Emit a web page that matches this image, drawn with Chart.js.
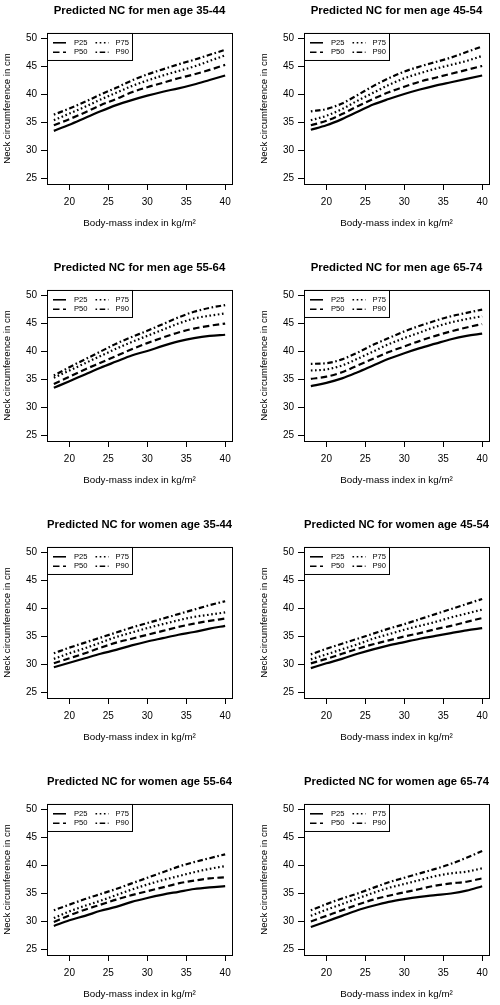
<!DOCTYPE html>
<html>
<head>
<meta charset="utf-8">
<script src="https://cdn.jsdelivr.net/npm/chart.js@4.4.1/dist/chart.umd.min.js"></script>
<style>
  html, body { margin: 0; padding: 0; background: #fff; width: 500px; height: 1005px; overflow: hidden; }
  body { position: relative; }
  canvas { position: absolute; }
</style>
</head>
<body>
<canvas id="c0" width="257" height="257" style="left:0px;top:0px"></canvas>
<canvas id="c1" width="257" height="257" style="left:257px;top:0px"></canvas>
<canvas id="c2" width="257" height="257" style="left:0px;top:257px"></canvas>
<canvas id="c3" width="257" height="257" style="left:257px;top:257px"></canvas>
<canvas id="c4" width="257" height="257" style="left:0px;top:514px"></canvas>
<canvas id="c5" width="257" height="257" style="left:257px;top:514px"></canvas>
<canvas id="c6" width="257" height="257" style="left:0px;top:771px"></canvas>
<canvas id="c7" width="257" height="257" style="left:257px;top:771px"></canvas>
<script>
// BMI values the curves were read at
const bmi = [18, 20, 22, 24, 26, 28, 30, 32, 34, 36, 38, 40];
const xTicks = [20, 25, 30, 35, 40];
const yTicks = [25, 30, 35, 40, 45, 50];
const percentiles = ["P25", "P50", "P75", "P90"];

// men 35-44
const men3544P25 = [33.5, 34.6, 35.8, 37.0, 38.1, 39.0, 39.8, 40.5, 41.1, 41.8, 42.6, 43.4];
const men3544P50 = [34.5, 35.6, 36.8, 38.1, 39.2, 40.4, 41.3, 42.1, 42.9, 43.6, 44.4, 45.3];
const men3544P75 = [35.4, 36.6, 37.8, 39.1, 40.3, 41.5, 42.5, 43.4, 44.2, 45.0, 46.0, 47.0];
const men3544P90 = [36.4, 37.5, 38.7, 40.0, 41.2, 42.5, 43.6, 44.5, 45.4, 46.2, 47.1, 48.0];

// men 45-54
const men4554P25 = [33.7, 34.5, 35.6, 36.9, 38.2, 39.2, 40.1, 40.9, 41.6, 42.2, 42.8, 43.4];
const men4554P50 = [34.5, 35.3, 36.5, 37.9, 39.2, 40.4, 41.4, 42.3, 43.0, 43.7, 44.4, 45.1];
const men4554P75 = [35.4, 36.2, 37.4, 38.9, 40.3, 41.7, 42.9, 43.8, 44.6, 45.3, 46.0, 46.9];
const men4554P90 = [37.0, 37.4, 38.4, 39.9, 41.5, 42.9, 44.1, 45.0, 45.8, 46.6, 47.6, 48.6];

// men 55-64
const men5564P25 = [33.5, 34.7, 35.9, 37.1, 38.2, 39.3, 40.1, 41.0, 41.8, 42.4, 42.8, 43.0];
const men5564P50 = [34.2, 35.5, 36.8, 38.0, 39.2, 40.4, 41.5, 42.5, 43.4, 44.1, 44.6, 45.0];
const men5564P75 = [35.3, 36.6, 37.9, 39.2, 40.5, 41.7, 42.8, 43.9, 45.0, 45.9, 46.4, 46.8];
const men5564P90 = [35.7, 37.2, 38.6, 40.0, 41.4, 42.6, 43.7, 44.9, 46.1, 47.1, 47.8, 48.3];

// men 65-74
const men6574P25 = [33.8, 34.4, 35.2, 36.3, 37.5, 38.7, 39.7, 40.6, 41.4, 42.2, 42.8, 43.2];
const men6574P50 = [35.1, 35.5, 36.3, 37.5, 38.7, 39.9, 40.9, 41.9, 42.8, 43.6, 44.3, 44.9];
const men6574P75 = [36.6, 36.8, 37.5, 38.7, 40.0, 41.3, 42.4, 43.4, 44.4, 45.2, 45.8, 46.3];
const men6574P90 = [37.8, 37.9, 38.6, 39.8, 41.2, 42.4, 43.6, 44.6, 45.5, 46.3, 46.9, 47.5];

// women 35-44
const women3544P25 = [29.5, 30.3, 31.1, 31.9, 32.6, 33.4, 34.1, 34.7, 35.3, 35.8, 36.4, 36.9];
const women3544P50 = [30.2, 31.1, 32.0, 33.0, 33.9, 34.6, 35.3, 36.0, 36.7, 37.3, 37.8, 38.2];
const women3544P75 = [31.0, 32.0, 32.9, 33.9, 34.9, 35.7, 36.5, 37.2, 37.9, 38.5, 38.9, 39.3];
const women3544P90 = [32.0, 33.0, 33.9, 34.8, 35.7, 36.6, 37.4, 38.2, 39.0, 39.8, 40.6, 41.3];

// women 45-54
const women4554P25 = [29.35, 30.2, 31.0, 31.9, 32.7, 33.4, 34.0, 34.6, 35.1, 35.6, 36.1, 36.5];
const women4554P50 = [30.2, 31.0, 31.9, 32.8, 33.6, 34.3, 35.0, 35.6, 36.3, 36.9, 37.6, 38.3];
const women4554P75 = [30.9, 31.8, 32.7, 33.6, 34.6, 35.4, 36.2, 36.9, 37.6, 38.4, 39.1, 39.8];
const women4554P90 = [31.8, 32.8, 33.7, 34.6, 35.5, 36.4, 37.2, 38.1, 39.0, 39.9, 40.8, 41.7];

// women 55-64
const women5564P25 = [29.2, 30.2, 31.0, 31.9, 32.6, 33.5, 34.2, 34.8, 35.3, 35.8, 36.1, 36.3];
const women5564P50 = [29.9, 31.1, 32.1, 33.0, 33.9, 34.7, 35.4, 36.1, 36.8, 37.3, 37.7, 37.9];
const women5564P75 = [30.6, 31.8, 32.8, 33.7, 34.7, 35.7, 36.6, 37.4, 38.1, 38.8, 39.4, 39.9];
const women5564P90 = [32.0, 33.0, 34.0, 34.9, 35.8, 36.8, 37.8, 38.8, 39.8, 40.6, 41.3, 42.0];

// women 65-74
const women6574P25 = [29.0, 30.0, 31.0, 32.0, 32.8, 33.5, 34.0, 34.4, 34.7, 35.0, 35.5, 36.3];
const women6574P50 = [30.0, 31.0, 32.0, 33.0, 33.9, 34.6, 35.2, 35.8, 36.4, 36.8, 37.1, 37.7];
const women6574P75 = [31.0, 32.1, 33.1, 34.1, 35.1, 36.0, 36.7, 37.4, 38.1, 38.6, 38.9, 39.5];
const women6574P90 = [32.0, 33.1, 34.1, 35.0, 36.0, 37.0, 37.8, 38.6, 39.4, 40.3, 41.4, 42.6];

const panels = [
    { title: "Predicted NC for men age 35-44", series: [men3544P25, men3544P50, men3544P75, men3544P90] },
    { title: "Predicted NC for men age 45-54", series: [men4554P25, men4554P50, men4554P75, men4554P90] },
    { title: "Predicted NC for men age 55-64", series: [men5564P25, men5564P50, men5564P75, men5564P90] },
    { title: "Predicted NC for men age 65-74", series: [men6574P25, men6574P50, men6574P75, men6574P90] },
    { title: "Predicted NC for women age 35-44", series: [women3544P25, women3544P50, women3544P75, women3544P90] },
    { title: "Predicted NC for women age 45-54", series: [women4554P25, women4554P50, women4554P75, women4554P90] },
    { title: "Predicted NC for women age 55-64", series: [women5564P25, women5564P50, women5564P75, women5564P90] },
    { title: "Predicted NC for women age 65-74", series: [women6574P25, women6574P50, women6574P75, women6574P90] },
];

// R line types: solid, dashed, dotted, dotdash
const dashes = [[], [6.5, 3.5], [1.6, 2.6], [1.6, 2.6, 5.5, 2.6]];

Chart.defaults.font.family = "'Liberation Sans', Arial, sans-serif";
Chart.defaults.color = "#000";

// Frame around the plot region, like R's box()
const plotBox = {
    id: "plotBox",
    afterDraw(chart) {
        const { ctx, chartArea: a } = chart;
        ctx.save();
        ctx.strokeStyle = "#000";
        ctx.lineWidth = 1;
        ctx.strokeRect(a.left + 0.5, a.top + 0.5, a.width, a.height);
        ctx.restore();
    },
};

// Boxed two-column legend in the top-left corner
const legendBox = {
    id: "legendBox",
    afterDatasetsDraw(chart) {
        const { ctx, chartArea: a } = chart;
        const x0 = a.left;
        const y0 = a.top;
        ctx.save();
        ctx.fillStyle = "#fff";
        ctx.fillRect(x0, y0, 86, 28);
        ctx.strokeStyle = "#000";
        ctx.lineWidth = 1;
        ctx.strokeRect(x0 + 0.5, y0 + 0.5, 85, 27);
        ctx.font = "7.6px 'Liberation Sans', Arial, sans-serif";
        ctx.textBaseline = "middle";
        ctx.fillStyle = "#000";
        chart.data.datasets.forEach((ds, i) => {
            const col = Math.floor(i / 2);
            const row = i % 2;
            const lx = x0 + (col ? 48.5 : 6);
            const tx = x0 + (col ? 68.5 : 27);
            const ly = y0 + (row ? 19.3 : 9.8);
            ctx.setLineDash(ds.borderDash);
            ctx.lineWidth = 1.6;
            ctx.beginPath();
            ctx.moveTo(lx, ly);
            ctx.lineTo(lx + 13, ly);
            ctx.stroke();
            ctx.setLineDash([]);
            ctx.fillText(ds.label, tx, ly);
        });
        ctx.restore();
    },
};

panels.forEach((p, k) => {
    const ctx = document.getElementById("c" + k);
    new Chart(ctx, {
        type: "line",
        data: {
            datasets: p.series.map((vals, i) => ({
                label: percentiles[i],
                data: bmi.map((b, j) => ({ x: b, y: vals[j] })),
                borderColor: "#000",
                borderWidth: 2.2,
                borderDash: dashes[i],
                pointRadius: 0,
                fill: false,
                cubicInterpolationMode: "monotone",
            })),
        },
        options: {
            responsive: false,
            animation: false,
            layout: {
                padding: { left: 0, right: 25, top: 0, bottom: 0 },
            },
            scales: {
                x: {
                    type: "linear",
                    min: 17.12,
                    max: 40.88,
                    afterBuildTicks: (s) => {
                        s.ticks = xTicks.map((v) => ({ value: v }));
                    },
                    afterFit: (s) => {
                        s.height = 73;
                    },
                    grid: {
                        drawOnChartArea: false,
                        drawTicks: true,
                        tickLength: 6,
                        color: "#000",
                    },
                    border: { display: false },
                    ticks: {
                        padding: 6.5,
                        color: "#000",
                        font: { size: 10 },
                        maxRotation: 0,
                        autoSkip: false,
                    },
                    title: {
                        display: true,
                        text: "Body-mass index in kg/m²",
                        color: "#000",
                        font: { size: 9.8 },
                        padding: { top: 0, bottom: 28.3 },
                    },
                },
                y: {
                    type: "linear",
                    min: 24,
                    max: 51,
                    afterBuildTicks: (s) => {
                        s.ticks = yTicks.map((v) => ({ value: v }));
                    },
                    afterFit: (s) => {
                        s.width = 47;
                    },
                    grid: {
                        drawOnChartArea: false,
                        drawTicks: true,
                        tickLength: 6,
                        color: "#000",
                    },
                    border: { display: false },
                    ticks: {
                        padding: 4,
                        color: "#000",
                        font: { size: 10 },
                        autoSkip: false,
                    },
                    title: {
                        display: true,
                        text: "Neck circumference in cm",
                        color: "#000",
                        font: { size: 9.6 },
                        padding: { top: 1.4, bottom: 0 },
                    },
                },
            },
            plugins: {
                title: {
                    display: true,
                    text: p.title,
                    fullSize: false,
                    color: "#000",
                    font: { size: 11.4, weight: "bold" },
                    padding: { top: 4, bottom: 15.3 },
                },
                legend: { display: false },
                tooltip: { enabled: false },
            },
        },
        plugins: [legendBox, plotBox],
    });
});
</script>
</body>
</html>
